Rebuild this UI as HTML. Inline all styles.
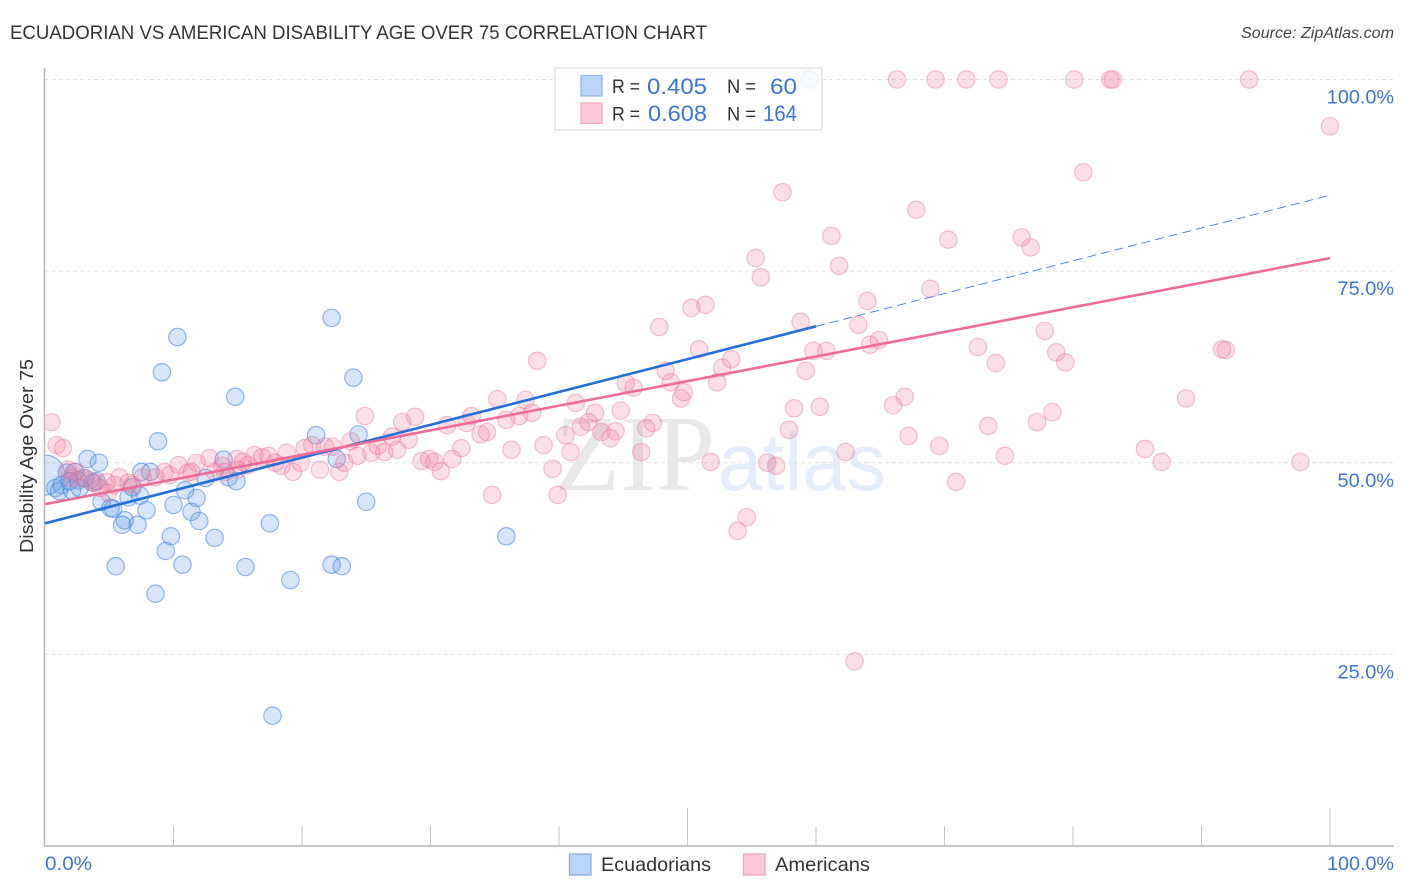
<!DOCTYPE html>
<html lang="en">
<head>
<meta charset="utf-8">
<title>Ecuadorian vs American Disability Age Over 75 Correlation Chart</title>
<style>
html,body{margin:0;padding:0;background:#fff;width:1406px;height:892px;overflow:hidden}
svg{display:block;font-family:"Liberation Sans",sans-serif}
</style>
</head>
<body>
<svg id="chart" width="1406" height="892" viewBox="0 0 1406 892" xmlns="http://www.w3.org/2000/svg">
  <defs>
    <clipPath id="plot-clip"><rect x="45" y="60" width="1349" height="786"/></clipPath>
  </defs>
  <rect x="0" y="0" width="1406" height="892" fill="#fff"/>
  <text x="10" y="39" font-size="19.5" fill="#333" textLength="697" lengthAdjust="spacingAndGlyphs">ECUADORIAN VS AMERICAN DISABILITY AGE OVER 75 CORRELATION CHART</text>
  <text x="1241" y="38" font-size="15.5" font-style="italic" fill="#444" textLength="153" lengthAdjust="spacingAndGlyphs">Source: ZipAtlas.com</text>
  <g>
    <text x="555" y="490" font-family="'Liberation Serif',serif" font-size="108" fill="#e8e8e8" textLength="160" lengthAdjust="spacingAndGlyphs">ZIP</text>
    <text x="718" y="490" font-size="82" fill="#e5edfa" textLength="168" lengthAdjust="spacingAndGlyphs">atlas</text>
  </g>
  <g id="grid"></g>
  <g id="axes"></g>
  <g id="marks-blue" clip-path="url(#plot-clip)"></g>
  <g id="marks-pink" clip-path="url(#plot-clip)"></g>
  <g id="trends"></g>
  <g id="labels"></g>
  <text transform="translate(33,456) rotate(-90)" font-size="18.5" fill="#333" text-anchor="middle" textLength="194" lengthAdjust="spacingAndGlyphs">Disability Age Over 75</text>

  <g>
    <rect x="555" y="68" width="267" height="62" fill="#fff" fill-opacity="0.82" stroke="#e2e2e2" stroke-width="1.5"/>
    <rect x="581" y="75.5" width="21" height="20.5" fill="#b9d4f9" stroke="#8cb4ea" stroke-width="1.2"/>
    <rect x="581" y="103" width="21" height="20.5" fill="#fcc8d9" stroke="#f2a6bf" stroke-width="1.2"/>
    <g font-size="19.5" fill="#333">
      <text x="612" y="93" textLength="28" lengthAdjust="spacingAndGlyphs">R =</text>
      <text x="727" y="93" textLength="29" lengthAdjust="spacingAndGlyphs">N =</text>
      <text x="612" y="120.5" textLength="28" lengthAdjust="spacingAndGlyphs">R =</text>
      <text x="727" y="120.5" textLength="29" lengthAdjust="spacingAndGlyphs">N =</text>
    </g>
    <g font-size="22" fill="#3b74d8">
      <text x="647" y="94" textLength="60" lengthAdjust="spacingAndGlyphs">0.405</text>
      <text x="770" y="94" textLength="27" lengthAdjust="spacingAndGlyphs">60</text>
      <text x="648" y="121" textLength="59" lengthAdjust="spacingAndGlyphs">0.608</text>
      <text x="763" y="121" textLength="34" lengthAdjust="spacingAndGlyphs">164</text>
    </g>
  </g>

  <g>
    <rect x="569.5" y="854" width="21.5" height="21" fill="#b9d4f9" stroke="#7ea9e4" stroke-width="1.2"/>
    <text x="601" y="871" font-size="19.5" fill="#333" textLength="110" lengthAdjust="spacingAndGlyphs">Ecuadorians</text>
    <rect x="743.5" y="854" width="21.5" height="21" fill="#fcc8d9" stroke="#f0a0bb" stroke-width="1.2"/>
    <text x="775" y="871" font-size="19.5" fill="#333" textLength="95" lengthAdjust="spacingAndGlyphs">Americans</text>
  </g>
</svg>
<script>
const yTicks = [100, 75, 50, 25];
const yTickLabels = ["100.0%", "75.0%", "50.0%", "25.0%"];
const xTicks = [0, 10, 20, 30, 40, 50, 60, 70, 80, 90, 100];
const xEndLabels = ["0.0%", "100.0%"];
const ecuadorianLargePoint = [[0, 48.4]];
const ecuadorianPoints = [
[59.5,100],[10.3,66.4],[22.3,68.9],[9.1,61.8],[24.0,61.1],[14.8,58.6],[8.8,52.8],[21.1,53.6],[24.4,53.7],[22.7,50.5],
[3.3,50.5],[4.2,50.0],[13.9,50.4],[7.5,48.8],[8.2,48.8],[1.7,48.7],[2.3,48.8],[2.6,47.7],[3.7,47.4],[0.8,46.7],
[1.1,46.3],[1.3,47.1],[2.1,46.4],[2.7,46.7],[4.0,47.6],[6.5,45.5],[7.4,45.7],[6.8,46.8],[4.4,44.9],[5.1,44.1],
[5.3,44.0],[6.2,42.5],[6.0,41.9],[7.2,41.9],[7.9,43.8],[10.0,44.5],[10.9,46.4],[11.8,45.4],[11.4,43.6],[12.0,42.4],
[9.8,40.4],[9.4,38.5],[10.7,36.7],[13.2,40.2],[17.5,42.1],[25.0,44.9],[15.6,36.4],[19.1,34.7],[22.3,36.7],[23.1,36.5],
[5.5,36.5],[8.6,32.9],[12.5,48.0],[14.3,48.1],[14.9,47.6],[35.9,40.4],[17.7,17.0],[3.1,48.0],[1.9,47.6]
];
const americanPoints = [
[66.3,100],[69.3,100],[71.7,100],[74.2,100],[80.1,100],[82.9,100],[83.1,100],[93.7,100],[100,93.9],[80.8,87.9],
[57.4,85.3],[67.8,83.0],[70.3,79.1],[76.0,79.4],[76.7,78.1],[61.2,79.6],[55.3,76.7],[61.8,75.7],[55.7,74.2],[64.0,71.1],
[68.9,72.7],[50.3,70.2],[51.4,70.6],[58.8,68.4],[63.3,68.0],[47.8,67.7],[77.8,67.2],[64.9,66.0],[64.2,65.4],[72.6,65.1],
[50.9,64.8],[91.6,64.8],[91.9,64.7],[59.8,64.6],[60.8,64.6],[78.7,64.4],[79.4,63.1],[74.0,63.0],[53.4,63.5],[38.3,63.3],
[52.7,62.4],[48.3,62.0],[59.2,62.0],[52.3,60.5],[48.7,60.5],[45.2,60.4],[45.8,59.8],[49.7,59.2],[49.5,58.4],[35.2,58.3],
[37.4,58.2],[88.8,58.4],[66.9,58.6],[66.0,57.5],[58.3,57.1],[60.3,57.3],[78.4,56.6],[77.2,55.3],[73.4,54.8],[44.8,56.8],
[41.3,57.8],[24.9,56.1],[27.8,55.3],[28.8,56.0],[42.8,56.5],[37.9,56.5],[36.9,56.1],[35.9,55.6],[33.2,56.1],[31.3,54.9],
[32.8,55.2],[47.3,55.2],[46.8,54.5],[57.9,54.3],[41.7,54.7],[42.3,55.3],[34.4,54.0],[33.9,53.7],[40.5,53.6],[43.3,54.0],
[44.4,54.1],[44.0,53.2],[67.2,53.5],[69.6,52.2],[85.6,51.8],[86.9,50.1],[97.7,50.1],[74.7,50.9],[46.4,51.4],[62.3,51.4],
[51.8,50.1],[56.2,50.0],[56.9,49.6],[40.9,51.4],[38.8,52.3],[36.3,51.7],[39.5,49.2],[32.4,51.9],[31.7,50.5],[29.9,50.5],
[29.3,50.2],[30.3,50.1],[30.8,48.9],[34.8,45.8],[39.9,45.8],[70.9,47.5],[54.6,42.9],[53.9,41.1],[63.0,24.1],[0.5,55.3],
[0.9,52.3],[1.4,51.9],[1.8,49.1],[2.4,48.8],[2.9,48.0],[3.5,47.7],[3.9,47.4],[4.8,47.5],[4.9,46.1],[5.8,48.1],
[6.5,47.4],[6.8,47.1],[9.3,48.8],[10.4,49.7],[9.7,48.4],[11.1,48.7],[11.8,50.0],[12.8,50.6],[11.4,48.8],[13.2,48.8],
[14.9,50.5],[15.0,49.1],[15.8,49.7],[16.3,51.0],[16.9,50.7],[17.4,50.9],[17.9,50.0],[18.4,49.6],[18.8,51.3],[19.3,48.8],
[19.9,50.0],[20.2,51.9],[20.8,52.3],[21.4,49.1],[21.8,52.1],[22.4,52.1],[22.9,48.8],[23.3,50.0],[23.8,52.8],[24.3,50.9],
[25.4,51.3],[25.9,52.2],[26.4,51.4],[27.0,53.4],[27.4,51.7],[28.3,53.0],[7.6,48.1],[8.6,48.1],[13.8,49.6],[14.0,48.8],
[15.4,50.1],[4.3,46.7],[5.4,47.1],[2.1,48.0]
];
const ecuadorianTrendX = [0, 60];
const ecuadorianTrendY = [42.1, 67.8];
const ecuadorianForecastX = [60, 100];
const ecuadorianForecastY = [67.8, 84.9];
const americanTrendX = [0, 100];
const americanTrendY = [44.6, 76.7];

const NS = 'http://www.w3.org/2000/svg';
function xScale(v) { return 45 + v * 12.85; }
function yScale(v) { return 846 - v * 7.665; }
function make(tag, parentId, props) {
  const el = document.createElementNS(NS, tag);
  for (const k in props) el.setAttribute(k, props[k]);
  document.getElementById(parentId).appendChild(el);
  return el;
}

yTicks.forEach(function (t, i) {
  const line = make('line', 'grid', { x1: 45, x2: 1394, y1: yScale(t), y2: yScale(t), stroke: '#e2e2e2', 'stroke-width': 1, 'stroke-dasharray': '4 3' });
  
  
  const label = make('text', 'labels', { x: 1394, y: yScale(t) + 24, 'font-size': 19.5, fill: '#3b74d8', 'text-anchor': 'end', textLength: yTickLabels[i].length * 11.2 - (yTickLabels[i].length > 5 ? 0 : -0.5), lengthAdjust: 'spacingAndGlyphs' });
  label.textContent = yTickLabels[i];
  
  
});

const yAxisLine = make('line', 'axes', { x1: 44.5, x2: 44.5, y1: 68, y2: 846, stroke: '#b5b5b5', 'stroke-width': 1.5 });


const xAxisLine = make('line', 'axes', { x1: 44, x2: 1394, y1: 846, y2: 846, stroke: '#b5b5b5', 'stroke-width': 1.5 });



xTicks.forEach(function (t) {
  if (t === 0) return;
  const top = (t === 50 || t === 100) ? 808 : 826;
  const tick = make('line', 'axes', { x1: xScale(t), x2: xScale(t), y1: top, y2: 846, stroke: '#c4c4c4', 'stroke-width': 1 });
  
  
});

const xStartLabel = make('text', 'labels', { x: 45, y: 870, 'font-size': 19.5, fill: '#3b74d8', textLength: 47, lengthAdjust: 'spacingAndGlyphs' });
xStartLabel.textContent = xEndLabels[0];


const xEndLabel = make('text', 'labels', { x: 1327, y: 870, 'font-size': 19.5, fill: '#3b74d8', textLength: 67, lengthAdjust: 'spacingAndGlyphs' });
xEndLabel.textContent = xEndLabels[1];



function drawPoints(points, parentId, radius, fill, stroke, name) {
  points.forEach(function (p) {
    const c = make('circle', parentId, { cx: xScale(p[0]), cy: yScale(p[1]), r: radius, fill: fill, stroke: stroke, 'stroke-width': 1.2 });
    
    
  });
}
const blueFill = 'rgba(108,162,228,0.28)';
const blueStroke = 'rgba(60,130,225,0.55)';
const pinkFill = 'rgba(238,122,155,0.24)';
const pinkStroke = 'rgba(232,120,155,0.45)';
drawPoints(ecuadorianLargePoint, 'marks-blue', 20, blueFill, blueStroke, 'ecuadorian-point-large');
drawPoints(ecuadorianPoints, 'marks-blue', 8.7, blueFill, blueStroke, 'ecuadorian-point');
drawPoints(americanPoints, 'marks-pink', 8.7, pinkFill, pinkStroke, 'american-point');

const blueForecast = make('line', 'trends', { x1: xScale(ecuadorianForecastX[0]), y1: yScale(ecuadorianForecastY[0]), x2: xScale(ecuadorianForecastX[1]), y2: yScale(ecuadorianForecastY[1]), stroke: '#3f7ad6', 'stroke-width': 0.9, 'stroke-dasharray': '9 5' });


const blueTrend = make('line', 'trends', { x1: xScale(ecuadorianTrendX[0]), y1: yScale(ecuadorianTrendY[0]), x2: xScale(ecuadorianTrendX[1]), y2: yScale(ecuadorianTrendY[1]), stroke: '#2470d8', 'stroke-width': 2.6 });


const pinkTrend = make('line', 'trends', { x1: xScale(americanTrendX[0]), y1: yScale(americanTrendY[0]), x2: xScale(americanTrendX[1]), y2: yScale(americanTrendY[1]), stroke: '#ee6a98', 'stroke-width': 2.6 });


</script>
</body>
</html>
